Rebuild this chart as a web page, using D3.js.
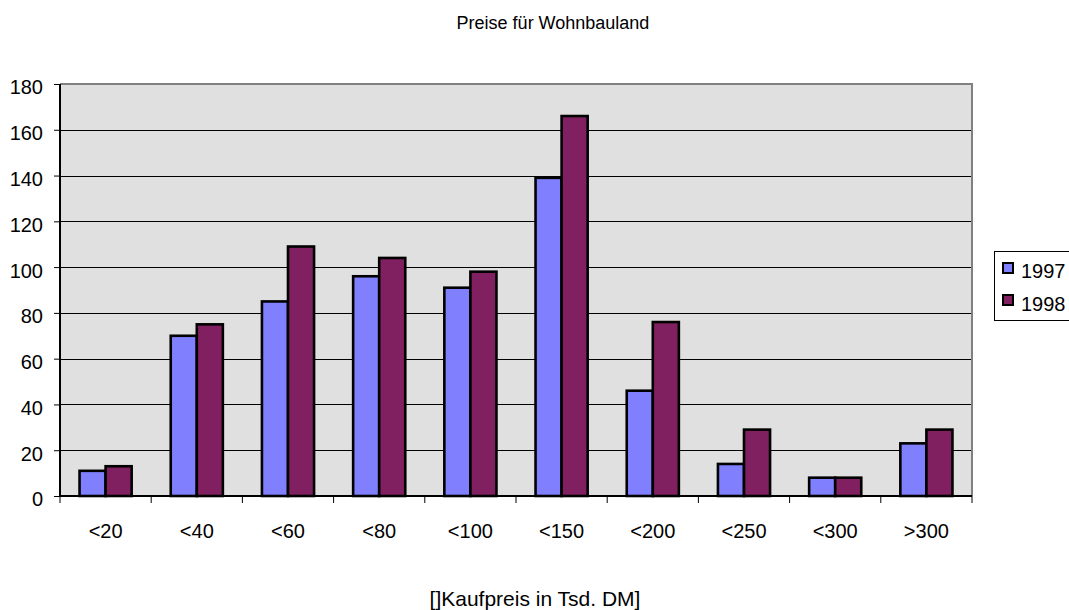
<!DOCTYPE html>
<html>
<head>
<meta charset="utf-8">
<script src="https://cdn.jsdelivr.net/npm/d3@7"></script>
<style>
  html, body { margin: 0; padding: 0; background: #fff; }
  svg { display: block; font-family: "Liberation Sans", Arial, sans-serif; }
</style>
</head>
<body>
<svg id="chart" width="1069" height="610"></svg>
<script>
// Price classes (thousand DM) and number of sales per year
const categories = ["<20", "<40", "<60", "<80", "<100", "<150", "<200", "<250", "<300", ">300"];
const series = ["1997", "1998"];
const values1997 = [11, 70, 85, 96, 91, 139, 46, 14, 8, 23];
const values1998 = [13, 75, 109, 104, 98, 166, 76, 29, 8, 29];
const yTicks = [0, 20, 40, 60, 80, 100, 120, 140, 160, 180];
const colors = ["#8080ff", "#802060"];

const svg = d3.select("#chart");
const plot = { left: 60, top: 84, right: 972, bottom: 496 };

const x = d3.scaleBand().domain(categories).range([plot.left, plot.right]);
// two bars per group, gap between groups 150% of one bar
const groupPad = 1.5 / 3.5;
const xInner = d3.scaleBand().domain(series)
  .range([x.bandwidth() * groupPad / 2, x.bandwidth() * (1 - groupPad / 2)]);
const y = d3.scaleLinear().domain([0, 180]).range([plot.bottom, plot.top]);

// plot background
svg.append("rect")
  .attr("x", plot.left).attr("y", plot.top)
  .attr("width", plot.right - plot.left).attr("height", plot.bottom - plot.top)
  .attr("fill", "#e0e0e0");

// gridlines
svg.append("g").selectAll("line")
  .data(yTicks.filter(d => d > 0 && d < 180))
  .join("line")
  .attr("x1", plot.left).attr("x2", plot.right)
  .attr("y1", d => Math.round(y(d)) + 0.5).attr("y2", d => Math.round(y(d)) + 0.5)
  .attr("stroke", "#000").attr("stroke-width", 1);

// top and right frame
svg.append("path")
  .attr("d", `M${plot.left},${plot.top}H${plot.right}V${plot.bottom}`)
  .attr("fill", "none").attr("stroke", "#808080").attr("stroke-width", 2);

// bars
const rows = categories.map((c, i) => ({ cat: c, vals: [values1997[i], values1998[i]] }));
const groups = svg.append("g").selectAll("g")
  .data(rows).join("g")
  .attr("transform", d => `translate(${x(d.cat)},0)`);
groups.selectAll("rect")
  .data(d => d.vals.map((v, j) => ({ key: series[j], v, j })))
  .join("rect")
  .attr("x", d => xInner(d.key))
  .attr("y", d => y(d.v))
  .attr("width", xInner.bandwidth())
  .attr("height", d => y(0) - y(d.v))
  .attr("fill", d => colors[d.j])
  .attr("stroke", "#000").attr("stroke-width", 2.6);

// y axis
const yAxis = d3.axisLeft(y).tickValues(yTicks).tickSize(6).tickPadding(11);
const gy = svg.append("g").attr("transform", `translate(${plot.left},0)`).call(yAxis);
gy.attr("font-size", 20).attr("font-family", "Liberation Sans, Arial, sans-serif");
gy.select(".domain").attr("stroke", "#000").attr("stroke-width", 2).attr("d", `M0,${plot.top}V${plot.bottom}`);
gy.selectAll(".tick line").attr("stroke", "#000");
gy.selectAll(".tick text").attr("fill", "#000").attr("y", 3.5);

// x axis: ticks between categories, labels centred in each band
const gx = svg.append("g").attr("transform", `translate(0,${plot.bottom})`);
gx.append("line").attr("x1", plot.left).attr("x2", plot.right)
  .attr("y1", 0).attr("y2", 0).attr("stroke", "#000").attr("stroke-width", 2);
const boundaries = categories.map(c => x(c)).concat([plot.right]);
gx.selectAll("line.tk").data(boundaries).join("line").attr("class", "tk")
  .attr("x1", d => d).attr("x2", d => d).attr("y1", 0).attr("y2", 7)
  .attr("stroke", "#000").attr("stroke-width", 1);
gx.selectAll("text").data(categories).join("text")
  .attr("x", d => x(d) + x.bandwidth() / 2).attr("y", 42)
  .attr("text-anchor", "middle").attr("font-size", 20).attr("fill", "#000")
  .text(d => d);

// title and axis label
svg.append("text").attr("x", 553).attr("y", 29).attr("text-anchor", "middle")
  .attr("font-size", 18).attr("fill", "#000").text("Preise für Wohnbauland");
svg.append("text").attr("x", 535).attr("y", 606).attr("text-anchor", "middle")
  .attr("font-size", 21).attr("fill", "#000").text("[]Kaufpreis in Tsd. DM]");

// legend
const leg = svg.append("g");
leg.append("rect").attr("x", 994.5).attr("y", 251.5).attr("width", 90).attr("height", 69)
  .attr("fill", "#fff").attr("stroke", "#000").attr("stroke-width", 1);
series.forEach((s, i) => {
  const top = 263 + i * 32;
  leg.append("rect").attr("x", 1003).attr("y", top).attr("width", 10).attr("height", 10)
    .attr("fill", colors[i]).attr("stroke", "#000").attr("stroke-width", 2);
  leg.append("text").attr("x", 1021).attr("y", 278 + i * 33).attr("font-size", 20).attr("fill", "#000").text(s);
});
</script>
</body>
</html>
